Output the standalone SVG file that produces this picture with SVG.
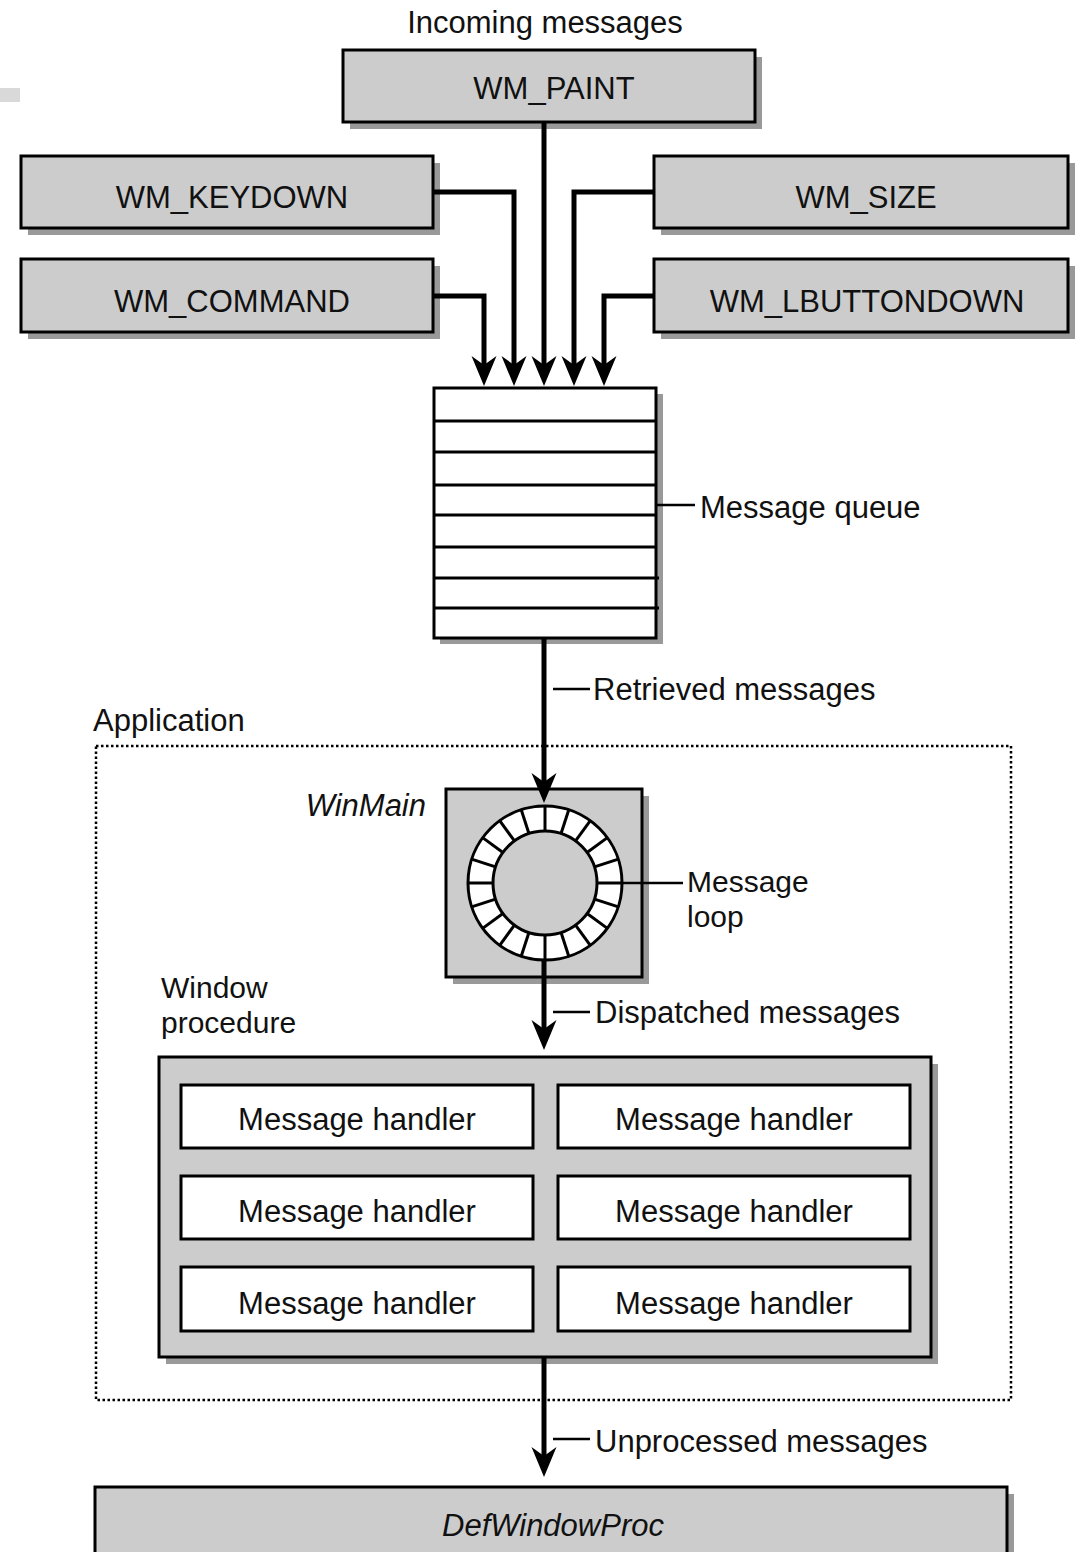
<svg xmlns="http://www.w3.org/2000/svg" xmlns:xlink="http://www.w3.org/1999/xlink" width="1077" height="1552" viewBox="0 0 1077 1552">
<style>
text{font-family:"Liberation Sans",Arial,sans-serif;font-size:31px;fill:#111}
.c{text-anchor:middle}
.i{font-style:italic}
.two{font-size:30px}
.box{fill:#cccccc;stroke:#000;stroke-width:3}
.sh{fill:#999999}
.wh{fill:#fff;stroke:#000;stroke-width:3}
.conn{fill:none;stroke:#000;stroke-width:5}
.lead{fill:none;stroke:#000;stroke-width:2.5}
.ln{stroke:#000;stroke-width:3}
</style>
<defs>
<path id="ah" d="M0,0 L-12.5,-30 L0,-21 L12.5,-30 Z" fill="#000"/>
<line id="div" x1="545" y1="805" x2="545" y2="831" stroke="#000" stroke-width="3"/>
</defs>
<rect width="1077" height="1552" fill="#fff"/>
<rect x="0" y="88" width="20" height="14" fill="#d9d9d9"/>
<text id="lbl-incoming" class="c" x="545" y="33">Incoming messages</text>

<g id="wm_paint"><rect class="sh" x="350" y="57" width="412" height="72"/><rect class="box" x="343" y="50" width="412" height="72"/><text class="c" x="554" y="99">WM_PAINT</text></g>
<g id="wm_keydown"><rect class="sh" x="28" y="163" width="412" height="72"/><rect class="box" x="21" y="156" width="412" height="72"/><text class="c" x="232" y="208">WM_KEYDOWN</text></g>
<g id="wm_command"><rect class="sh" x="28" y="266" width="412" height="73"/><rect class="box" x="21" y="259" width="412" height="73"/><text class="c" x="232" y="312">WM_COMMAND</text></g>
<g id="wm_size"><rect class="sh" x="661" y="163" width="414" height="72"/><rect class="box" x="654" y="156" width="414" height="72"/><text class="c" x="866" y="208">WM_SIZE</text></g>
<g id="wm_lbuttondown"><rect class="sh" x="661" y="266" width="414" height="73"/><rect class="box" x="654" y="259" width="414" height="73"/><text class="c" x="867" y="312">WM_LBUTTONDOWN</text></g>

<g id="queue">
<rect class="sh" x="440" y="394" width="223" height="250"/>
<rect class="wh" x="434" y="388" width="222" height="250"/>
<line class="ln" x1="434" y1="421" x2="656" y2="421"/>
<line class="ln" x1="434" y1="452" x2="656" y2="452"/>
<line class="ln" x1="434" y1="485" x2="656" y2="485"/>
<line class="ln" x1="434" y1="515" x2="656" y2="515"/>
<line class="ln" x1="434" y1="547" x2="656" y2="547"/>
<line class="ln" x1="434" y1="578" x2="659" y2="578"/>
<line class="ln" x1="434" y1="608" x2="659" y2="608"/>
<line class="lead" x1="657" y1="505" x2="695" y2="505"/>
<text x="700" y="518">Message queue</text>
</g>

<g id="application">
<text x="93" y="731">Application</text>
<rect x="96" y="746" width="915" height="654" fill="none" stroke="#000" stroke-width="2.5" stroke-dasharray="2.5 2.5"/>
</g>

<g id="winmain">
<rect class="sh" x="453" y="796" width="196" height="188"/>
<rect class="box" x="446" y="789" width="196" height="188"/>
<circle cx="545" cy="883" r="77" fill="#fff" stroke="#000" stroke-width="3"/>
<circle cx="545" cy="883" r="52" fill="#cccccc" stroke="#000" stroke-width="3"/>
<use xlink:href="#div"/>
<use xlink:href="#div" transform="rotate(18 545 883)"/>
<use xlink:href="#div" transform="rotate(36 545 883)"/>
<use xlink:href="#div" transform="rotate(54 545 883)"/>
<use xlink:href="#div" transform="rotate(72 545 883)"/>
<use xlink:href="#div" transform="rotate(90 545 883)"/>
<use xlink:href="#div" transform="rotate(108 545 883)"/>
<use xlink:href="#div" transform="rotate(126 545 883)"/>
<use xlink:href="#div" transform="rotate(144 545 883)"/>
<use xlink:href="#div" transform="rotate(162 545 883)"/>
<use xlink:href="#div" transform="rotate(180 545 883)"/>
<use xlink:href="#div" transform="rotate(198 545 883)"/>
<use xlink:href="#div" transform="rotate(216 545 883)"/>
<use xlink:href="#div" transform="rotate(234 545 883)"/>
<use xlink:href="#div" transform="rotate(252 545 883)"/>
<use xlink:href="#div" transform="rotate(270 545 883)"/>
<use xlink:href="#div" transform="rotate(288 545 883)"/>
<use xlink:href="#div" transform="rotate(306 545 883)"/>
<use xlink:href="#div" transform="rotate(324 545 883)"/>
<use xlink:href="#div" transform="rotate(342 545 883)"/>
<text class="i" x="426" y="816" text-anchor="end">WinMain</text>
<line class="lead" x1="622" y1="883" x2="683" y2="883"/>
<text class="two" x="687" y="892">Message</text>
<text class="two" x="687" y="927">loop</text>
</g>

<g id="winproc">
<text class="two" x="161" y="998">Window</text>
<text class="two" x="161" y="1033">procedure</text>
<rect class="sh" x="166" y="1064" width="772" height="300"/>
<rect class="box" x="159" y="1057" width="772" height="300"/>
</g>
<g id="h1"><rect class="wh" x="181" y="1085" width="352" height="63"/><text class="c" x="357" y="1130">Message handler</text></g>
<g id="h2"><rect class="wh" x="558" y="1085" width="352" height="63"/><text class="c" x="734" y="1130">Message handler</text></g>
<g id="h3"><rect class="wh" x="181" y="1176" width="352" height="63"/><text class="c" x="357" y="1222">Message handler</text></g>
<g id="h4"><rect class="wh" x="558" y="1176" width="352" height="63"/><text class="c" x="734" y="1222">Message handler</text></g>
<g id="h5"><rect class="wh" x="181" y="1267" width="352" height="64"/><text class="c" x="357" y="1314">Message handler</text></g>
<g id="h6"><rect class="wh" x="558" y="1267" width="352" height="64"/><text class="c" x="734" y="1314">Message handler</text></g>

<g id="defwindowproc">
<rect class="sh" x="102" y="1494" width="912" height="80"/>
<rect class="box" x="95" y="1487" width="912" height="80"/>
<text class="c i" x="553" y="1536">DefWindowProc</text>
</g>

<g id="connectors">
<path class="conn" d="M544,122 V366"/>
<path class="conn" d="M433,192 H514 V366"/>
<path class="conn" d="M433,296 H484 V366"/>
<path class="conn" d="M654,192 H574 V366"/>
<path class="conn" d="M654,296 H604 V366"/>
<use xlink:href="#ah" x="484" y="386"/>
<use xlink:href="#ah" x="514" y="386"/>
<use xlink:href="#ah" x="544" y="386"/>
<use xlink:href="#ah" x="574" y="386"/>
<use xlink:href="#ah" x="604" y="386"/>
<path class="conn" d="M544,638 V783"/>
<use xlink:href="#ah" x="544" y="803"/>
<line class="lead" x1="553" y1="689" x2="590" y2="689"/>
<text x="593" y="700">Retrieved messages</text>
<path class="conn" d="M544,960 V1030"/>
<use xlink:href="#ah" x="544" y="1050"/>
<line class="lead" x1="553" y1="1012" x2="590" y2="1012"/>
<text x="595" y="1023">Dispatched messages</text>
<path class="conn" d="M544,1357 V1457"/>
<use xlink:href="#ah" x="544" y="1477"/>
<line class="lead" x1="553" y1="1439" x2="590" y2="1439"/>
<text x="595" y="1452">Unprocessed messages</text>
</g>
</svg>
